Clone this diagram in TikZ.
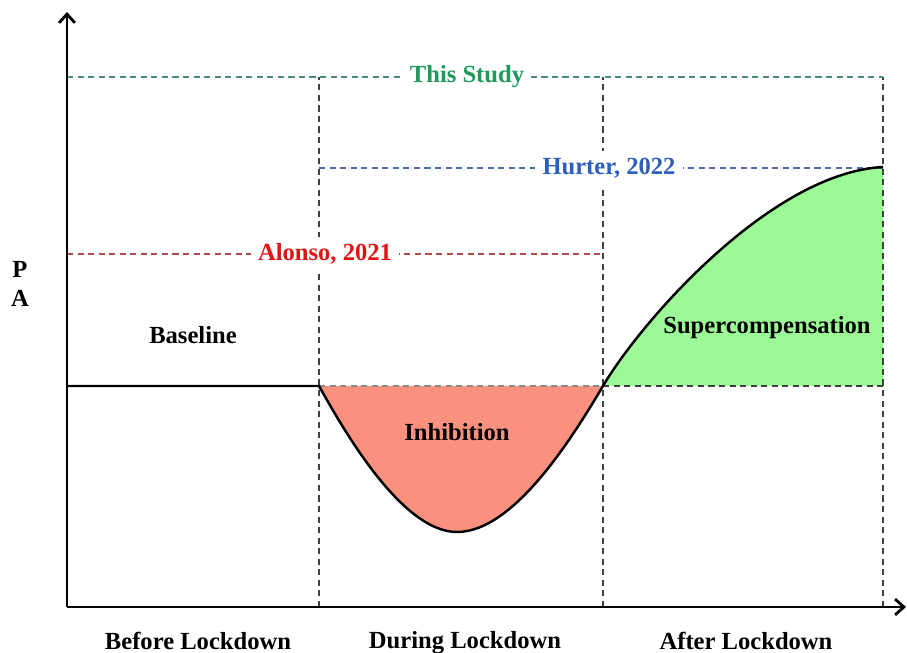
\documentclass[tikz,border=0pt]{standalone}
\usepackage{fontspec}
\setmainfont{Liberation Serif}
\usetikzlibrary{arrows.meta}
\definecolor{salmon}{RGB}{250,145,126}
\definecolor{lightgreen}{RGB}{156,250,150}
\definecolor{studygreen}{RGB}{30,155,90}
\definecolor{hurterblue}{RGB}{45,95,190}
\definecolor{alonsored}{RGB}{225,20,20}
\begin{document}
\begin{tikzpicture}[x=0.02cm, y=0.02cm, font=\bfseries\fontsize{14}{17}\selectfont,
	grid/.style={dash pattern=on 3.5pt off 2.5pt, black!75, line width=0.6pt},
	level/.style={dash pattern=on 3.5pt off 2.5pt, line width=0.6pt},
	lbl/.style={fill=white, inner sep=4pt}]

\useasboundingbox (0,0) rectangle (907,653);

\coordinate (O) at (67,46);
\coordinate (ytop) at (67,641);
\coordinate (xend) at (906,46);
\coordinate (start) at (319,267);
\coordinate (low) at (457,121);
\coordinate (back) at (603,267);
\coordinate (peak) at (883,486);

% fills
\fill[salmon] (start) .. controls (340,230) and (400,121) .. (low)
	.. controls (515,121) and (575,220) .. (back) -- cycle;
\fill[lightgreen] (back) .. controls (640,330) and (770,480) .. (peak) -- (883,267) -- cycle;

% phases
\foreach \x in {319, 603, 883}
	\draw[grid] (\x,46) -- (\x,576);
\draw[grid, black!45] (start) -- (back);
\draw[grid] (back) -- (883,267);

% studies
\draw[level, studygreen!55!gray] (67,576) -- (883,576);
\draw[level, hurterblue!55!gray] (319,485) -- (883,485);
\draw[level, alonsored!50!gray] (67,399) -- (603,399);
\node[lbl, text=studygreen] (study) at (467,576) {This Study};
\node[lbl, text=hurterblue] (hurter) at (609,485) {Hurter, 2022};
\node[lbl, text=alonsored] (alonso) at (325,399) {Alonso, 2021};

% PA curve
\draw[line width=1.4pt] (67,267) -- (start) .. controls (340,230) and (400,121) .. (low)
	.. controls (515,121) and (575,220) .. (back)
	.. controls (640,330) and (770,480) .. (peak);

% axes
\draw[-{Straight Barb[length=5pt,width=9pt]}, line width=1.6pt] (O) -- (ytop);
\draw[-{Straight Barb[length=5pt,width=9pt]}, line width=1.6pt] (O) -- (xend);
\node[align=center] (pa) at (20,369) {P\\A};

\node (baseline) at (193,318) {Baseline};
\node (inhibition) at (457,221) {Inhibition};
\node (supercomp) at (767,325) {Supercompensation};

\node (before) at (198,12) {Before Lockdown};
\node (during) at (465,10) {During Lockdown};
\node (after) at (746,12) {After Lockdown};

\end{tikzpicture}
\end{document}
